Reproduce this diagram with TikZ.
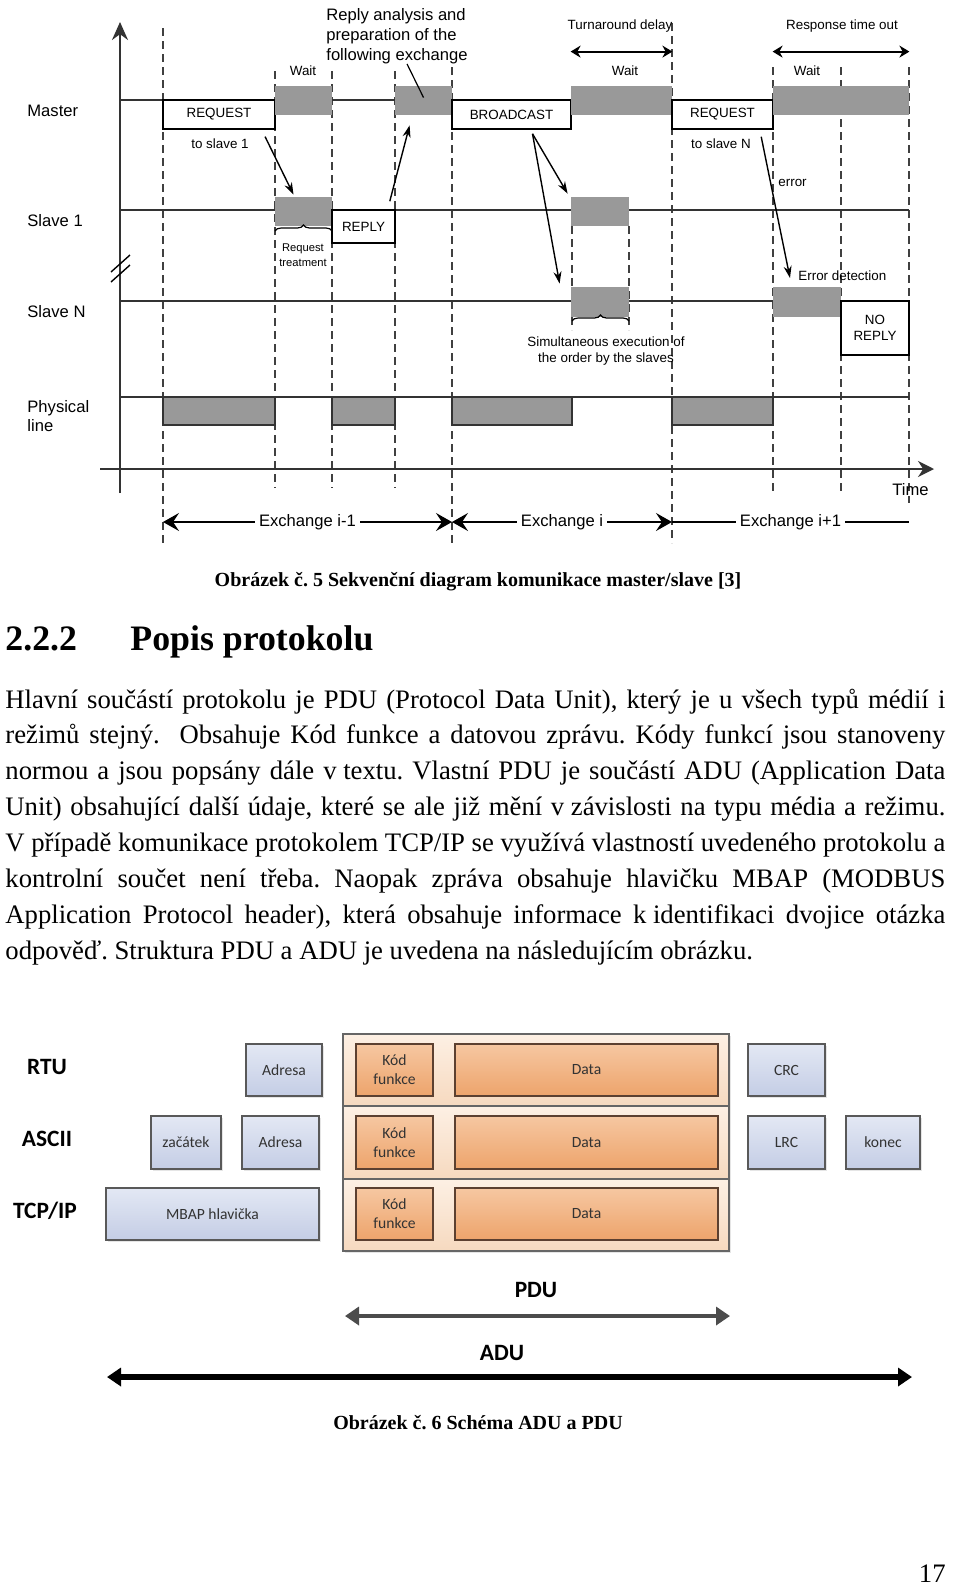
\documentclass[tikz,border=0pt]{standalone}
\usepackage{fontspec}
\setmainfont{Liberation Serif}
\newfontfamily\arialf{Liberation Sans}
\newfontfamily\calib{Carlito}
\usetikzlibrary{arrows.meta,fit,decorations.pathreplacing,shadows}
\frenchspacing

\newcommand\fbig{\arialf\fontsize{8.3}{9.9}\selectfont}
\newcommand\fsmall{\arialf\fontsize{6.7}{8}\selectfont}
\newcommand\ftiny{\arialf\fontsize{5.6}{7.4}\selectfont}
\newcommand\fcal{\calib\fontsize{7.8}{9.6}\selectfont}
\newcommand\fbody{\fontsize{13.35}{17.9}\selectfont}

\definecolor{blueT}{HTML}{E3E8F4}
\definecolor{blueB}{HTML}{C4CDE5}
\definecolor{orT}{HTML}{F6C7A1}
\definecolor{orB}{HTML}{EDA46C}
\definecolor{bgT}{HTML}{FDF0E4}
\definecolor{bgB}{HTML}{F6D9BF}
\definecolor{orline}{HTML}{5C4030}

\tikzset{
  tline/.style={line width=0.9pt, black!80},
  vdash/.style={line width=0.6pt, black!75, dash pattern=on 4pt off 2.5pt},
  msgbox/.style={draw, line width=0.8pt, fill=white, inner sep=0pt},
  msgtxt/.style={font=\fsmall, align=center, inner sep=0pt},
  hatchbox/.style={fill=black!40, inner sep=0pt},
  physbox/.style={hatchbox, draw=black!80, line width=0.6pt},
  lbl/.style={font=\fbig, inner sep=0pt},
  slbl/.style={font=\fsmall, inner sep=0pt},
  arr/.style={line width=0.7pt, -{Stealth[length=6pt,width=4pt]}},
  dblarr/.style={line width=0.9pt, {Stealth[length=5pt,width=6pt]}-{Stealth[length=5pt,width=6pt]}},
  exarr/.style={line width=0.8pt, {Stealth[length=8pt,width=9pt,inset=3pt]}-{Stealth[length=8pt,width=9pt,inset=3pt]}},
  exlbl/.style={font=\fbig, fill=white, inner xsep=2pt, inner ysep=1pt},
  softshadow/.style={drop shadow={opacity=0.2, shadow xshift=0.8pt, shadow yshift=-0.8pt}},
  bluebox/.style={draw=black!65, line width=0.6pt, top color=blueT, bottom color=blueB, inner sep=0pt, softshadow},
  orbox/.style={draw=orline, line width=0.6pt, top color=orT, bottom color=orB, inner sep=0pt},
  caltxt/.style={font=\fcal, text=black!80, align=center, inner sep=0pt},
  rowbox/.style={draw=black!60, line width=0.6pt, top color=bgT, bottom color=bgB, inner sep=0pt, softshadow},
  modelbl/.style={font=\calib\bfseries\fontsize{11.7}{14}\selectfont, inner sep=0pt},
  pduarr/.style={line width=2pt, black!70, {Triangle[length=7pt,width=9pt]}-{Triangle[length=7pt,width=9pt]}},
  aduarr/.style={line width=2.6pt, {Triangle[length=7pt,width=9pt]}-{Triangle[length=7pt,width=9pt]}},
  capt/.style={font=\bfseries\fontsize{10}{12}\selectfont, inner sep=0pt}
}

\begin{document}
\begin{tikzpicture}[x=0.5pt, y=-0.5pt]
\useasboundingbox (0,0) rectangle (960,1585);
\fill[white] (0,0) rectangle (960,1585);

% timing diagram
\foreach \x/\ya/\yb in {163/28/543, 275/71/488, 332/71/488, 395/71/488, 452/67/543,
  572/226/330, 629/226/330, 672/23/543, 773/67/493, 841/67/493, 909/67/503}
  \draw[vdash] (\x,\ya) -- (\x,\yb);
\foreach \y in {100,210,301,397}
  \draw[tline] (120,\y) -- (909,\y);
\draw[tline, -{Stealth[length=9pt,width=8pt]}] (120,493) -- (120,22);
\draw[tline, -{Stealth[length=8pt,width=8pt]}] (100,469) -- (934,469);
\draw[line width=0.7pt] (111,272) -- (130,255) (111,282) -- (130,265);

\node[lbl, anchor=west] (master) at (27,111) {Master};
\node[lbl, anchor=west] (slave1) at (27,221) {Slave 1};
\node[lbl, anchor=west] (slaveN) at (27,312) {Slave N};
\node[lbl, anchor=west, align=left] (phys) at (27,416) {Physical\\line};
\node[lbl, anchor=west] (time) at (892,490) {Time};

% master
\node[msgbox, fit={(163,100) (275,129)}, label={[msgtxt]center:REQUEST}] (req1) {};
\node[hatchbox, fit={(275,86) (332,115)}] (w1) {};
\node[hatchbox, fit={(395,86) (452,115)}] (ra) {};
\node[msgbox, fit={(452,100) (571,129)}, label={[msgtxt]center:BROADCAST}] (bc) {};
\node[hatchbox, fit={(571,86) (672,115)}] (w2) {};
\node[msgbox, fit={(672,100) (773,129)}, label={[msgtxt]center:REQUEST}] (req2) {};
\node[hatchbox, fit={(773,86) (909,115)}] (w3) {};
% slave 1
\node[hatchbox, fit={(275,197) (332,226)}] (treat) {};
\node[msgbox, fit={(332,210) (395,243)}, label={[msgtxt]center:REPLY}] (reply) {};
\node[hatchbox, fit={(571,197) (629,226)}] (s1b) {};
% slave N
\node[hatchbox, fit={(571,287) (629,317)}] (snb) {};
\node[hatchbox, fit={(773,287) (841,317)}] (edb) {};
\node[msgbox, fit={(841,301) (909,355)}, label={[msgtxt]center:NO\\REPLY}] (norep) {};
% physical line
\node[physbox, fit={(163,397) (275,425)}] (p1) {};
\node[physbox, fit={(332,397) (395,425)}] (p2) {};
\node[physbox, fit={(452,397) (572,425)}] (p3) {};
\node[physbox, fit={(672,397) (773,425)}] (p4) {};

\node[slbl] (wt1) at (303,71) {Wait};
\node[slbl] (wt2) at (625,71) {Wait};
\node[slbl] (wt3) at (807,71) {Wait};
\node[slbl] (ts1) at (220,144) {to slave 1};
\node[slbl] (tsn) at (721,144) {to slave N};
\node[slbl, anchor=west] (err) at (778,183) {error};
\node[slbl, anchor=west] (errdet) at (798,276) {Error detection};
\node[font=\ftiny, align=center, inner sep=0pt] (treattxt) at (303,255) {Request\\treatment};
\node[slbl, align=center] (simtxt) at (606,351) {Simultaneous execution of\\the order by the slaves};
\node[lbl, align=left, anchor=north west] (ratxt) at (326,8) {Reply analysis and\\preparation of the\\following exchange};
\node[slbl] (tdtxt) at (620,26) {Turnaround delay};
\node[slbl] (rttxt) at (842,26) {Response time out};

\draw[decorate, decoration={brace, amplitude=3pt}, line width=0.6pt] (275,231) -- (332,231);
\draw[decorate, decoration={brace, amplitude=3pt}, line width=0.6pt] (572,321) -- (629,321);

\draw[arr] ([xshift=8pt,yshift=1pt]ts1.north east) -- ([xshift=-5pt,yshift=1pt]treat.north);
\draw[arr] ([xshift=-3pt,yshift=4pt]reply.north east) -- ([xshift=7.5pt,yshift=-5pt]ra.south west);
\draw[line width=0.6pt] ([xshift=5pt]ratxt.south) -- ([yshift=1.5pt]ra.center);
\draw[arr] ([xshift=10.5pt,yshift=-2pt]bc.south) -- ([xshift=-1.5pt,yshift=1.5pt]s1b.north west);
\draw[arr] ([xshift=10.5pt,yshift=-2pt]bc.south) -- ([xshift=-5.5pt,yshift=1.5pt]snb.north west);
\draw[arr] ([xshift=5pt,yshift=1pt]tsn.north east) -- ([xshift=-4pt,yshift=-1pt]errdet.west);
\draw[dblarr] ([yshift=17pt]w2.north west) -- ([yshift=17pt]w2.north east);
\draw[dblarr] ([yshift=17pt]w3.north west) -- ([yshift=17pt]w3.north east);

\coordinate (ex0) at (163,522);
\coordinate (ex1) at (452,522);
\coordinate (ex2) at (672,522);
\coordinate (ex3) at (909,522);
\draw[exarr] (ex0) -- node[exlbl] (exa) {Exchange i-1} (ex1);
\draw[exarr] (ex1) -- node[exlbl] (exb) {Exchange i} (ex2);
\draw[exarr, -] (ex2) -- node[exlbl] (exc) {Exchange i+1} (ex3);

% text of the page
\node[capt] (cap5) at (478,582) {Obrázek č. 5 Sekvenční diagram komunikace master/slave [3]};
\node[anchor=base west, inner sep=0pt, font=\bfseries\fontsize{17.9}{20}\selectfont] (secno) at (5,650) {2.2.2};
\node[anchor=base west, inner sep=0pt, font=\bfseries\fontsize{17.9}{20}\selectfont] (sectitle) at (130,650) {Popis protokolu};
\foreach \t [count=\i] in {
  {Hlavní součástí protokolu je PDU (Protocol Data Unit), který je u všech typů médií i},
  {režimů stejný.~ Obsahuje Kód funkce a datovou zprávu. Kódy funkcí jsou stanoveny},
  {normou a jsou popsány dále v\hspace{3.3pt}textu. Vlastní PDU je součástí ADU (Application Data},
  {Unit) obsahující další údaje, které se ale již mění v\hspace{3.3pt}závislosti na typu média a režimu.},
  {V případě komunikace protokolem TCP/IP se využívá vlastností uvedeného protokolu a},
  {kontrolní součet není třeba. Naopak zpráva obsahuje hlavičku MBAP (MODBUS},
  {Application Protocol header), která obsahuje informace k\hspace{3.3pt}identifikaci dvojice otázka}}
  \node[anchor=base west, inner sep=0pt, font=\fbody] (body\i) at (5,{708+(\i-1)*35.9}) {\makebox[470pt][s]{\t}};
\node[anchor=base west, inner sep=0pt, font=\fbody] (body8) at (5,959) {odpověď. Struktura PDU a ADU je uvedena na následujícím obrázku.};

% ADU / PDU scheme
\node[modelbl] (rtu) at (47,1067) {RTU};
\node[modelbl] (ascii) at (47,1139) {ASCII};
\node[modelbl] (tcpip) at (45,1211) {TCP/IP};
\node[rowbox, fit={(343,1034) (729,1106)}] (row1) {};
\node[rowbox, fit={(343,1106) (729,1179)}] (row2) {};
\node[rowbox, fit={(343,1179) (729,1251)}] (row3) {};
\node[bluebox, fit={(246,1044) (322,1096)}, label={[caltxt]center:Adresa}] (adr1) {};
\node[orbox, fit={(356,1044) (433,1096)}, label={[caltxt]center:Kód\\funkce}] (kod1) {};
\node[orbox, fit={(455,1044) (718,1096)}, label={[caltxt]center:Data}] (data1) {};
\node[bluebox, fit={(748,1044) (825,1096)}, label={[caltxt]center:CRC}] (crc) {};
\node[bluebox, fit={(151,1116) (221,1169)}, label={[caltxt]center:začátek}] (zac) {};
\node[bluebox, fit={(242,1116) (319,1169)}, label={[caltxt]center:Adresa}] (adr2) {};
\node[orbox, fit={(356,1116) (433,1169)}, label={[caltxt]center:Kód\\funkce}] (kod2) {};
\node[orbox, fit={(455,1116) (718,1169)}, label={[caltxt]center:Data}] (data2) {};
\node[bluebox, fit={(748,1116) (825,1169)}, label={[caltxt]center:LRC}] (lrc) {};
\node[bluebox, fit={(846,1116) (920,1169)}, label={[caltxt]center:konec}] (konec) {};
\node[bluebox, fit={(106,1188) (319,1240)}, label={[caltxt]center:MBAP hlavička}] (mbap) {};
\node[orbox, fit={(356,1188) (433,1240)}, label={[caltxt]center:Kód\\funkce}] (kod3) {};
\node[orbox, fit={(455,1188) (718,1240)}, label={[caltxt]center:Data}] (data3) {};

\node[modelbl] (pdulbl) at (536,1290) {PDU};
\coordinate (pduL) at (345,1316);
\coordinate (pduR) at (730,1316);
\draw[pduarr] (pduL) -- (pduR);
\node[modelbl] (adulbl) at (502,1353) {ADU};
\coordinate (aduL) at (107,1377);
\coordinate (aduR) at (912,1377);
\draw[aduarr] (aduL) -- (aduR);

\node[capt] (cap6) at (478,1423) {Obrázek č. 6 Schéma ADU a PDU};
\node[anchor=base east, inner sep=0pt, font=\fbody] (pageno) at (946,1582) {17};
\end{tikzpicture}
\end{document}
